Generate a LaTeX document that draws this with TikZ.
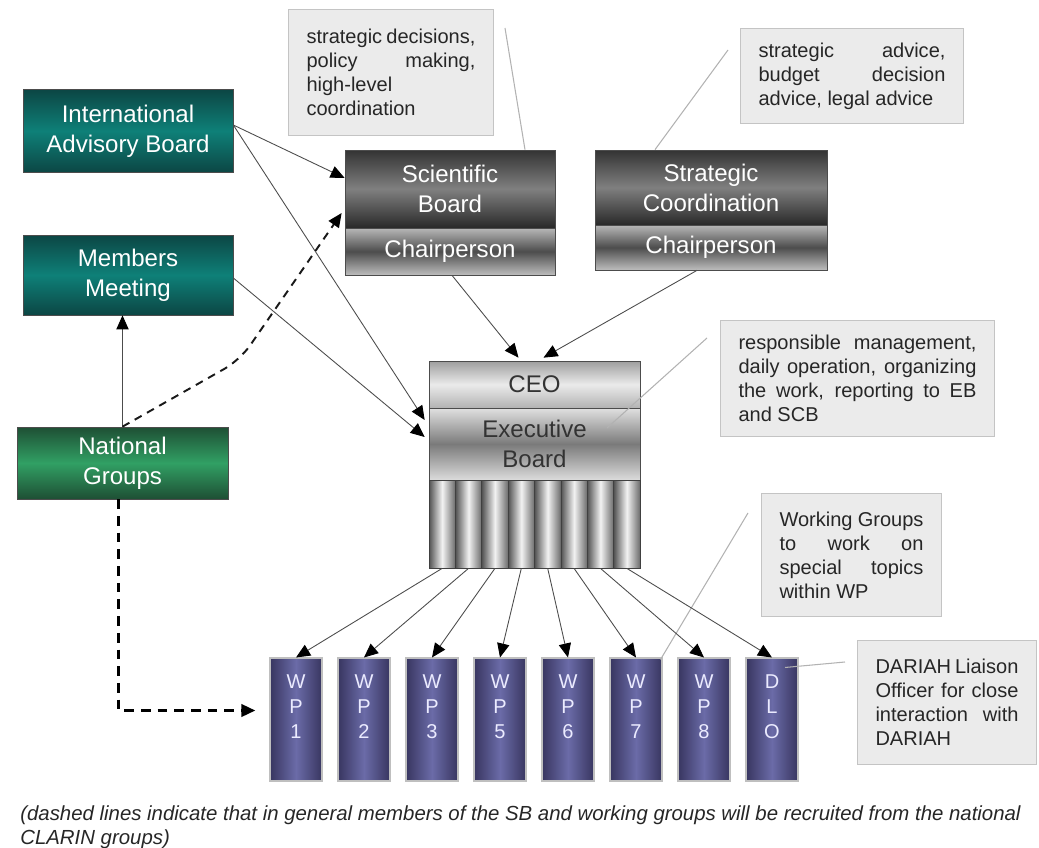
\documentclass[tikz,border=0pt]{standalone}
\usepackage{fontspec}
\setmainfont{Liberation Sans}
\usetikzlibrary{arrows.meta,calc}

\definecolor{tealdark}{HTML}{0C4644}
\definecolor{teallight}{HTML}{0E8078}
\definecolor{greendark}{HTML}{1E4F34}
\definecolor{greenlight}{HTML}{31A064}
\definecolor{wpdark}{HTML}{383660}
\definecolor{wplight}{HTML}{6B6BA8}
\definecolor{notefill}{HTML}{EBEBEB}
\definecolor{noteline}{HTML}{C4C4C4}

\tikzset{
  box/.style={draw=black!70, line width=0.4pt, inner sep=0pt, align=center,
    text=white, font=\fontsize{13.7}{17}\selectfont},
  tealbox/.style={box, minimum width=4.2cm, top color=tealdark, bottom color=tealdark, middle color=teallight},
  greenbox/.style={box, minimum width=4.22cm, top color=greendark, bottom color=greendark, middle color=greenlight},
  darkbox/.style={box, top color=black!80, bottom color=black!84, middle color=black!50},
  chairbox/.style={box, top color=black!28, bottom color=black!26, middle color=black!70},
  colbox/.style={draw=black!75, line width=0.4pt, minimum width=0.5275cm, minimum height=1.76cm,
    left color=black!68, right color=black!58, middle color=black!5},
  wpbox/.style={draw=black!25, line width=0.6pt, minimum width=1.04cm, minimum height=2.46cm,
    left color=wpdark, right color=wpdark, middle color=wplight, align=center, inner sep=0pt,
    text=white!92!blue, font=\fontsize{11.4}{14.2}\selectfont},
  note/.style={draw=noteline, fill=notefill, line width=0.6pt, anchor=north west, align=justify,
    inner xsep=0.36cm, inner ysep=0pt, text=black!85, font=\fontsize{11.4}{13.7}\selectfont},
  arr/.style={draw=black!70, line width=0.5pt, -{Triangle[length=8pt,width=7pt,color=black]}},
  dasharr/.style={arr, draw=black, line width=1.7pt, dash pattern=on 5.5pt off 4pt},
  pointer/.style={draw=black!30, line width=0.6pt}
}

\begin{document}
\begin{tikzpicture}[x=0.02cm, y=-0.02cm]
  \useasboundingbox (0,0) rectangle (1039,848);

  % left column
  \node[tealbox, minimum height=1.66cm] (iab) at (128,131) {International\\Advisory Board};
  \node[tealbox, minimum height=1.6cm] (mm) at (128,275) {Members\\Meeting};
  \node[greenbox, minimum height=1.44cm] (ng) at (122.5,463) {National\\Groups};

  % boards
  \node[darkbox, minimum width=4.2cm, minimum height=1.56cm] (sb) at (450,189) {Scientific\\Board};
  \node[chairbox, minimum width=4.2cm, minimum height=0.94cm] (sbchair) at (450,251.5) {Chairperson};
  \node[darkbox, minimum width=4.64cm, minimum height=1.5cm] (sc) at (711,187.5) {Strategic\\Coordination};
  \node[chairbox, minimum width=4.64cm, minimum height=0.9cm] (scchair) at (711,247.5) {Chairperson};

  \node[box, minimum width=4.22cm, minimum height=0.94cm, text=black!80,
    top color=black!38, bottom color=black!30, middle color=black!8] (ceo) at (534.5,384.5) {CEO};
  \node[box, minimum width=4.22cm, minimum height=1.44cm, text=black!80,
    top color=black!12, bottom color=black!14, middle color=black!52] (eb) at (534.5,444) {Executive\\Board};

  \foreach \i in {1,...,8}
    \node[colbox] (col\i) at ({442.19+(\i-1)*26.375},524) {};

  \foreach \a/\b/\c [count=\i] in {W/P/1,W/P/2,W/P/3,W/P/5,W/P/6,W/P/7,W/P/8,D/L/O}
    \node[wpbox] (wp\i) at ({296+(\i-1)*68},719.5) {\a\\\b\\\c\\ };

  % notes
  \node[note, text width=3.38cm, minimum height=2.52cm] (n1) at (288,9)
    {strategic decisions,\linebreak policy making,\linebreak high-level\newline coordination};
  \node[note, text width=3.74cm, minimum height=1.9cm] (n2) at (740,28)
    {strategic advice,\linebreak budget decision\linebreak advice, legal advice};
  \node[note, text width=4.76cm, minimum height=2.32cm] (n3) at (720,320)
    {responsible management,\linebreak daily operation, organizing\linebreak the work, reporting to EB\linebreak and SCB};
  \node[note, text width=2.88cm, minimum height=2.46cm] (n4) at (761,493)
    {Working Groups\linebreak to work on\linebreak special topics\linebreak within WP};
  \node[note, text width=2.86cm, minimum height=2.48cm] (n5) at (857,640)
    {DARIAH Liaison\linebreak Officer for close\linebreak interaction with\linebreak DARIAH};

  \coordinate (p1) at (505,28);
  \coordinate (p2) at (728,50);
  \coordinate (p3) at (707,338);
  \coordinate (p4) at (748,513);
  \coordinate (p5) at (845,662);
  \draw[pointer] (p1) -- ($(sb.north)+(75,0)$);
  \draw[pointer] (p2) -- ($(sc.north)+(-56,0)$);
  \draw[pointer] (p3) -- ($(eb.center)+(72.5,-16)$);
  \draw[pointer] (p4) -- ($(wp6.north east)+(-2,2)$);
  \draw[pointer] (p5) -- ($(wp8.north)+(13,10)$);

  % connectors
  \draw[arr] (ng.north) -- (ng.north |- mm.south);
  \draw[arr] ($(iab.east)+(0,-6)$) -- ($(sb.west)+(0,-11)$);
  \draw[arr] ($(iab.east)+(0,-6)$) -- ($(eb.west)+(-4,-24)$);
  \draw[arr] ($(mm.east)+(0,3)$) -- ($(eb.west)+(-4,-7)$);
  \draw[arr] ($(sbchair.south)+(2,0)$) -- ($(ceo.north)+(-16,-3)$);
  \draw[arr] ($(scchair.south)+(-14,0)$) -- ($(ceo.north)+(9,-3)$);
  \foreach \i in {1,...,8}
    \draw[arr] (col\i.south) -- (wp\i.north);

  \coordinate (bend) at (240,360);
  \draw[arr, dash pattern=on 4.5pt off 3.5pt, line width=1.1pt, draw=black!90, rounded corners=10pt]
    (ng.north) -- (bend) -- ($(sb.west)+(-3,24)$);
  \draw[dasharr, shorten >=8pt] ($(ng.south)+(-4,0)$) |- ($(wp1.west)+(0,-9)$);

  \node[anchor=north west, align=left, inner sep=0pt, text=black!85,
    font=\fontsize{11.6}{13.7}\selectfont\itshape] (caption) at (20,805)
    {(dashed lines indicate that in general members of the SB and working groups will be recruited from the national\\CLARIN groups)};
\end{tikzpicture}
\end{document}
